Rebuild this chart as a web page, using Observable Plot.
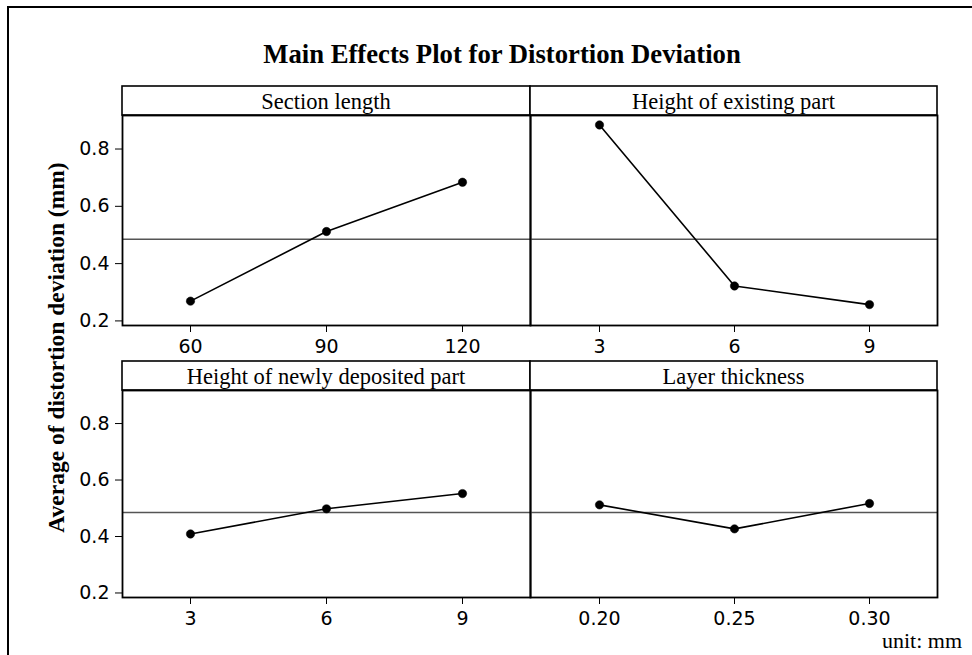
<!DOCTYPE html>
<html>
<head>
<meta charset="utf-8">
<script src="https://cdn.jsdelivr.net/npm/d3@7"></script>
<script src="https://cdn.jsdelivr.net/npm/@observablehq/plot@0.6"></script>
<style>
  html, body { margin: 0; padding: 0; background: #fff; }
  #root { position: relative; width: 972px; height: 655px; overflow: hidden; background: #fff; }
  #root svg { position: absolute; overflow: visible; }
</style>
</head>
<body>
<div id="root"></div>
<script>
// ---- data ----
const titleText = "Main Effects Plot for Distortion Deviation";
const yLabelText = "Average of distortion deviation (mm)";
const unitText = "unit: mm";
const factors = ["Section length", "Height of existing part", "Height of newly deposited part", "Layer thickness"];
const levelsSection = ["60", "90", "120"];
const meansSection = [0.269, 0.512, 0.684];
const levelsExisting = ["3", "6", "9"];
const meansExisting = [0.884, 0.322, 0.257];
const levelsNewly = ["3", "6", "9"];
const meansNewly = [0.409, 0.498, 0.552];
const levelsLayer = ["0.20", "0.25", "0.30"];
const meansLayer = [0.512, 0.427, 0.517];
const grandMean = 0.485;
const yTicks = [0.2, 0.4, 0.6, 0.8];
const yDomain = [0.184, 0.917];

// ---- layout ----
const colX = [[122, 530], [530, 937]];
const rowY = [{ strip: 86, top: 115, bottom: 325 }, { strip: 361, top: 390, bottom: 597 }];
const panels = [
  { name: factors[0], levels: levelsSection, means: meansSection, col: 0, row: 0 },
  { name: factors[1], levels: levelsExisting, means: meansExisting, col: 1, row: 0 },
  { name: factors[2], levels: levelsNewly, means: meansNewly, col: 0, row: 1 },
  { name: factors[3], levels: levelsLayer, means: meansLayer, col: 1, row: 1 }
];

const root = document.getElementById("root");

// overlay with figure frame, title, y label, strips, unit note
const ov = d3.select(root).append("svg")
  .attr("width", 972).attr("height", 655)
  .style("left", "0px").style("top", "0px");

ov.append("path").attr("d", "M8,660V7H980").attr("fill", "none").attr("stroke", "#000").attr("stroke-width", 2);

ov.append("text").text(titleText)
  .attr("x", 502).attr("y", 63).attr("text-anchor", "middle")
  .attr("font-family", "Liberation Serif, Times New Roman, serif").attr("font-weight", "bold")
  .attr("font-size", 26.7).attr("fill", "#000");

ov.append("text").text(yLabelText)
  .attr("transform", "translate(64,347.5) rotate(-90)").attr("text-anchor", "middle")
  .attr("font-family", "Liberation Serif, Times New Roman, serif").attr("font-weight", "bold")
  .attr("font-size", 23.5).attr("fill", "#000");

ov.append("text").text(unitText)
  .attr("x", 962).attr("y", 648).attr("text-anchor", "end")
  .attr("font-family", "Liberation Serif, Times New Roman, serif")
  .attr("font-size", 22).attr("fill", "#000");

for (const p of panels) {
  const [x0, x1] = colX[p.col];
  const r = rowY[p.row];
  ov.append("rect").attr("x", x0).attr("y", r.strip).attr("width", x1 - x0).attr("height", r.top - r.strip)
    .attr("fill", "#fff").attr("stroke", "#000").attr("stroke-width", 1.6);
  ov.append("text").text(p.name)
    .attr("x", (x0 + x1) / 2).attr("y", r.top - 6).attr("text-anchor", "middle")
    .attr("font-family", "Liberation Serif, Times New Roman, serif")
    .attr("font-size", 22.5).attr("fill", "#000");
}

// ---- panels drawn with Plot ----
for (const p of panels) {
  const [x0, x1] = colX[p.col];
  const r = rowY[p.row];
  const mL = 70, mR = 12, mT = 6, mB = 45;
  const data = p.levels.map((lv, i) => ({ level: lv, mean: p.means[i] }));
  const chart = Plot.plot({
    width: (x1 - x0) + mL + mR,
    height: (r.bottom - r.top) + mT + mB,
    marginLeft: mL, marginRight: mR, marginTop: mT, marginBottom: mB,
    style: { fontFamily: "DejaVu Sans, sans-serif", fontSize: "19px", color: "#000", background: "transparent", overflow: "visible" },
    x: { type: "point", domain: p.levels, padding: 0.5, label: null, tickSize: 7, tickPadding: 7 },
    y: { domain: yDomain, ticks: yTicks, tickFormat: d3.format(".1f"), label: null,
         axis: p.col === 0 ? "left" : null, tickSize: 7, tickPadding: 6 },
    marks: [
      Plot.ruleY([grandMean], { stroke: "#555", strokeWidth: 1.5 }),
      Plot.line(data, { x: "level", y: "mean", stroke: "#000", strokeWidth: 1.6 }),
      Plot.dot(data, { x: "level", y: "mean", r: 4.2, fill: "#000", stroke: "#000", strokeWidth: 0.5 }),
      Plot.frame({ stroke: "#000", strokeWidth: 1.8 })
    ]
  });
  chart.style.left = (x0 - mL) + "px";
  chart.style.top = (r.top - mT) + "px";
  root.appendChild(chart);
}
</script>
</body>
</html>
